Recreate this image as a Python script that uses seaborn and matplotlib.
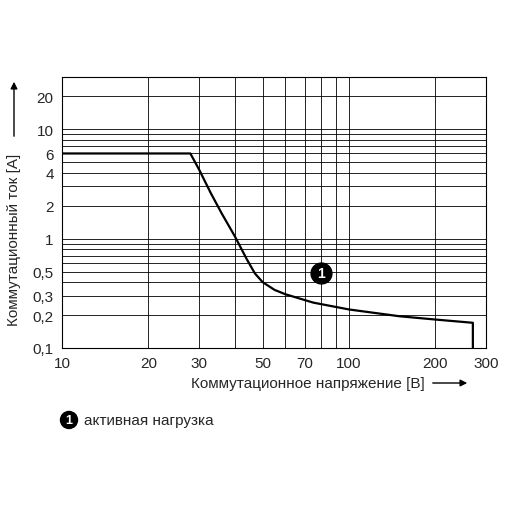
import matplotlib
matplotlib.use("Agg")
import matplotlib.pyplot as plt
import seaborn as sns
import pandas as pd
from matplotlib.ticker import FixedLocator, NullLocator

voltage = [10, 28, 30, 33, 36, 40, 44, 47, 50, 55, 60, 75, 100, 150, 200, 270, 270]
current = [6, 6, 4.3, 2.6, 1.7, 1.05, 0.65, 0.48, 0.40, 0.34, 0.31, 0.26, 0.225, 0.195, 0.182, 0.17, 0.1]
xticks = [10, 20, 30, 50, 70, 100, 200, 300]
xlabels = ["10", "20", "30", "50", "70", "100", "200", "300"]
yticks = [0.1, 0.2, 0.3, 0.5, 1, 2, 4, 6, 10, 20]
ylabels = ["0,1", "0,2", "0,3", "0,5", "1", "2", "4", "6", "10", "20"]
xgrid = [20, 30, 40, 50, 60, 70, 80, 90, 100, 200]
ygrid = [0.2, 0.3, 0.4, 0.5, 0.6, 0.7, 0.8, 0.9, 1, 2, 3, 4, 5, 6, 7, 8, 9, 10, 20]

sns.set_style("white")
plt.rcParams['font.family'] = ['Liberation Sans', 'DejaVu Sans']
fig = plt.figure(figsize=(5.1, 5.1), dpi=100)
ax = fig.add_axes([62/510, 1-349/510, (486-62)/510, (349-78)/510])
ax.set_xscale("log"); ax.set_yscale("log")
ax.set_xlim(10, 300); ax.set_ylim(0.1, 30)
for x in xgrid:
    ax.axvline(x, color="black", lw=0.6)
for y in ygrid:
    ax.axhline(y, color="black", lw=0.6)
df = pd.DataFrame({"U": voltage, "I": current})
sns.lineplot(data=df, x="U", y="I", sort=False, estimator=None, color="black", lw=1.6, ax=ax)
ax.xaxis.set_major_locator(FixedLocator(xticks)); ax.set_xticklabels(xlabels)
ax.yaxis.set_major_locator(FixedLocator(yticks)); ax.set_yticklabels(ylabels)
ax.xaxis.set_minor_locator(NullLocator()); ax.yaxis.set_minor_locator(NullLocator())
ax.tick_params(length=0, labelsize=11, pad=6)
ax.set_xlabel(""); ax.set_ylabel("")
for s in ax.spines.values():
    s.set_color("black"); s.set_linewidth(0.8)
ax.plot([80], [0.48], "o", ms=15, color="black")
ax.text(80, 0.48, "1", color="white", ha="center", va="center", fontsize=10, fontweight="bold")
fig.text(425/510, 1-384/510, "Коммутационное напряжение [В]", ha="right", va="center", fontsize=11)
fig.add_artist(matplotlib.patches.FancyArrowPatch((430/510, 1-384/510), (470/510, 1-384/510),
               transform=fig.transFigure, arrowstyle="-|>", mutation_scale=10, color="black", lw=1))
fig.text(14/510, 1-240/510, "Коммутационный ток [А]", rotation=90, ha="center", va="center", fontsize=11)
fig.add_artist(matplotlib.patches.FancyArrowPatch((14/510, 1-140/510), (14/510, 1-80/510),
               transform=fig.transFigure, arrowstyle="-|>", mutation_scale=10, color="black", lw=1))
fig.text(69/510, 1-421/510, "1", ha="center", va="center", color="white", fontsize=9, fontweight="bold",
         bbox=dict(boxstyle="circle,pad=0.2", fc="black", ec="black"))
fig.text(84/510, 1-421/510, "активная нагрузка", ha="left", va="center", fontsize=11)
fig.savefig("out.png", dpi=100)
